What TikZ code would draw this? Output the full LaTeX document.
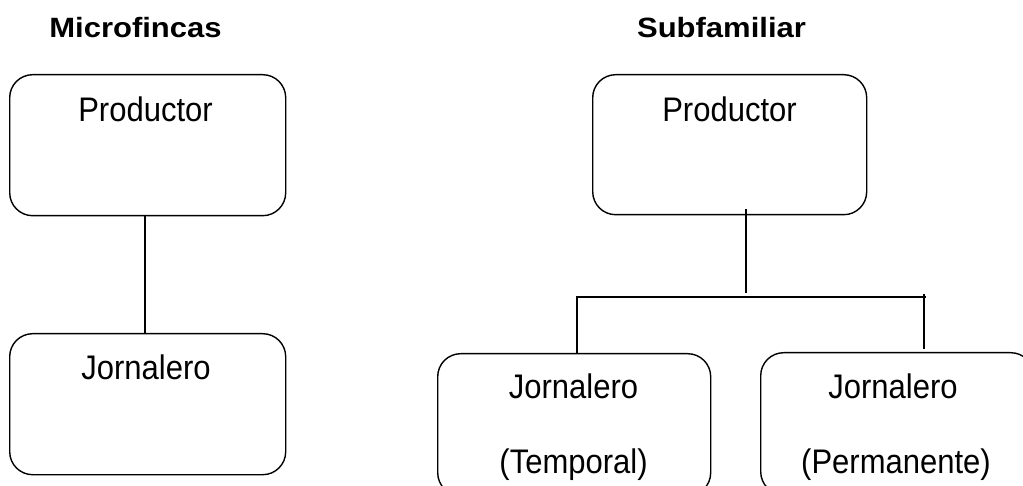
\documentclass[tikz,border=0pt]{standalone}
\usepackage{fontspec}
\setmainfont{Liberation Sans}
\newcommand{\bodytxt}[1]{\scalebox{1}[1.1]{#1}}
\newcommand{\ttltxt}[1]{\scalebox{1}[0.9]{#1}}
\begin{document}
\begin{tikzpicture}[x=1pt,y=-1pt,
  box/.style={draw,line width=1.4pt,rounded corners=23pt},
  conn/.style={line width=1.4pt},
  txt/.style={anchor=base,inner sep=0pt,font=\fontsize{31}{37}\selectfont},
  ttl/.style={anchor=base,inner sep=0pt,font=\fontsize{31}{37}\selectfont\bfseries}]
\useasboundingbox (0,0) rectangle (1023,486);
% titles
\node[ttl] (t1) at (135.5,38) {\ttltxt{Microfincas}};
\node[ttl] (t2) at (721.5,38) {\ttltxt{Subfamiliar}};
% boxes
\node[box,minimum width=276pt,minimum height=141pt,anchor=north west] (b1) at (9,74) {};
\node[box,minimum width=276pt,minimum height=141pt,anchor=north west] (b2) at (9,333) {};
\node[box,minimum width=274pt,minimum height=140pt,anchor=north west] (b3) at (592,74) {};
\node[box,minimum width=273pt,minimum height=142pt,anchor=north west] (b4) at (437,353) {};
\node[box,minimum width=273pt,minimum height=142pt,anchor=north west] (b5) at (760,352) {};
% texts
\node[txt] (p1) at (145.5,122) {\bodytxt{Productor}};
\node[txt] (j1) at (146,380) {\bodytxt{Jornalero}};
\node[txt] (p2) at (729.5,122) {\bodytxt{Productor}};
\node[txt] (j2) at (573.5,398) {\bodytxt{Jornalero}};
\node[txt] (j2b) at (573.5,473) {\bodytxt{(Temporal)}};
\node[txt] (j3) at (893,398) {\bodytxt{Jornalero}};
\node[txt] (j3b) at (896,473) {\bodytxt{(Permanente)}};
% connectors
\draw[conn] (b1.south -| 145,0) -- (b2.north -| 145,0);
\coordinate (s1) at (746,209);
\coordinate (s2) at (746,293);
\coordinate (hl) at (576,297);
\coordinate (hr) at (926,297);
\coordinate (rt) at (924,294);
\draw[conn] (s1) -- (s2);
\draw[conn] (hl) -- (hr);
\draw[conn] (577,297) -- (b4.north -| 577,0);
\draw[conn] (rt) -- (924,349);
\end{tikzpicture}
\end{document}
